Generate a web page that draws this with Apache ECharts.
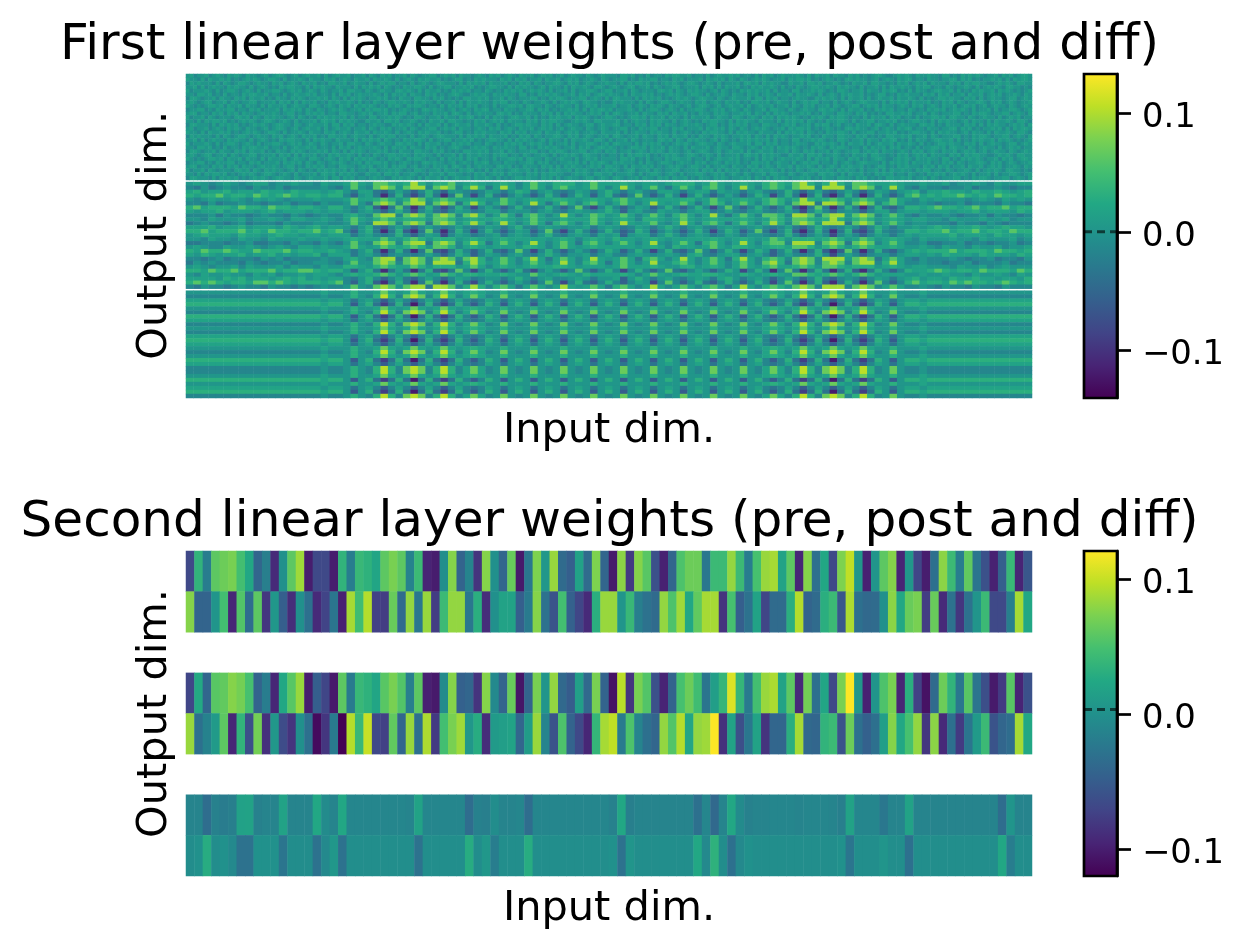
<!DOCTYPE html>
<html>
<head>
<meta charset="utf-8">
<style>html,body{margin:0;padding:0;background:#fff}#chart{width:1244px;height:949px}</style>
<script src="https://cdn.jsdelivr.net/npm/echarts@6/dist/echarts.min.js"></script>
</head>
<body>
<div id="chart"></div>
<script>
const titleFirst = 'First linear layer weights (pre, post and diff)';
const titleSecond = 'Second linear layer weights (pre, post and diff)';
const inputLabel = 'Input dim.';
const outputLabel = 'Output dim.';

const viridis = ['#440154','#482475','#414487','#355f8d','#2a788e','#21918c','#22a884','#44bf70','#7ad151','#bddf26','#fde725'];

const firstRange = [-0.14, 0.133];
const secondRange = [-0.12, 0.1213];
const firstMark = 0;
const secondMark = 0.0036;
const colorbarTicks = [-0.1, 0, 0.1];

/* Estimated weight level for each digit in the first-layer tables */
const preLevels = [-0.05, -0.04, -0.03, -0.02, -0.012, 0.002, 0.014, 0.024, 0.035, 0.045];
const postLevels = [-0.105, -0.08, -0.055, -0.03, -0.013, 0.003, 0.016, 0.03, 0.06, 0.095];
const diffLevels = [-0.12, -0.09, -0.06, -0.035, -0.015, 0.003, 0.018, 0.032, 0.07, 0.105];

/* First layer, pre-training: fine noise around zero */
const firstPreStrips = [
'5645564565 4656546554 5645665456 4565564645 6556455646 5465645564 6545566456 5646554565 4656456546 5564565645 6456554654 565',
'6554646556 5645456565 4566546455 6546554656 4565465564 6556546456 5465655645 4566454656 5554656465 6455646556 4565645565 465',
'4656555464 6545665456 5546564565 4655645466 5564565546 4565664554 6456545665 5546465656 4655564546 5646545566 5465645654 556',
'5564645655 4656554645 6545465665 5464656554 6555464656 5646545465 5665464556 6455656454 5665546465 6554564655 4646556546 654',
'6455565464 5665456546 4556654565 6456546545 5646655465 4565546656 5464655645 4656564554 6545465656 4565654645 5646455665 456',
'5546656454 6455465665 5645546456 5565645546 4656456555 6546465564 6554656454 5665445656 5465565546 6454656565 4556465645 665',
'4665455646 5546564655 6454655465 6545565646 5464656545 5656454655 4665546564 5454665565 6455646545 5566454656 6545566456 546',
'5654566455 6465455664 5556465646 4655645465 6556546454 6545665565 4656554645 5646465565 5465664554 6545565464 5656546655 454',
'6545456656 4655646554 6465556456 5546654565 4656465656 5454656546 5665455464 6556465645 5464556656 4665546545 6554645656 455',
'4556645465 5664554656 4555646565 6465465456 5654556465 6656454565 4546656554 5645654656 6455465545 5664656454 5565646465 665',
'5664554656 4656465545 6556545664 5465656455 4665545656 4556465664 5645546556 4665464565 5546656454 6555465646 4656554565 646',
'6455646545 5546656465 4656554564 6545465656 5564645546 6455656545 4665455646 5546566454 6465545665 5646454656 5564656545 456',
'5546465665 6454565654 5665456546 4555646656 4656554465 5646656455 6545465564 6655454656 4565646555 4656465665 5445656546 655',
'4665554646 5656454565 6545665546 5456555646 6465645545 6554465656 5464655646 4565564655 6546454566 5655465646 4565545664 565'
];
const firstPrePairs = [[0,5],[1,9],[2,12],[3,7],[4,11],[5,1],[6,13],[7,2],[8,0],[9,4],[10,6],[11,8],[12,3],[13,10],[0,9],[1,3],[2,6],[3,11],[4,13],[5,8],[6,0],[7,12],[8,5],[9,2],[10,1],[11,7],[12,4],[13,6]];
const firstPre = firstPrePairs.map(p => firstPreStrips[p[0]] + firstPreStrips[p[1]]);

/* First layer, difference: bands shared by many rows (left, faint stripe, 19 stripes, faint stripe, right) */
const bandStrongUp = '4444444444444444 4454 4575 4797 4898 4797 4686 4585 4585 4585 4585 4585 4585 4585 4585 4585 4686 4797 4898 4797 4585 4454 4444444444444';
const bandUp       = '5555555555555555 5565 5575 5686 5686 5686 5676 5575 5575 5575 5575 5575 5575 5575 5575 5575 5676 5686 5686 5686 5575 5565 5555555555555';
const bandDown     = '6666666666666666 6656 6535 6424 6424 6424 6434 6535 6535 6535 6535 6535 6535 6535 6535 6535 6434 6424 6424 6424 6535 6656 6666666666666';
const bandStrongDown = '7777777777777777 7767 7525 7313 7303 7313 7424 7525 7525 7525 7525 7525 7525 7525 7525 7525 7424 7313 7303 7313 7525 7767 7777777777777';
const firstDiff = [
  bandUp, bandStrongUp, bandDown, bandStrongDown, bandUp, bandStrongUp, bandStrongDown, bandDown, bandStrongUp,
  bandUp, bandStrongUp, bandDown, bandStrongDown, bandDown, bandUp, bandStrongUp, bandUp, bandStrongDown,
  bandDown, bandStrongUp, bandStrongUp, bandUp, bandStrongDown, bandUp, bandDown, bandStrongDown, bandStrongUp
];

/* First layer, post-training: the same bands with visible noise */
const firstPost = [
'5654565456645565 5465 5686 5887 6797 5778 5676 5676 4686 5777 5686 6676 5665 6777 5686 5676 5787 6897 5797 5887 6676 5565 5645565465566',
'4353454435445344 4454 3585 4898 5899 4898 4797 3696 4686 4786 5686 4696 4685 3686 4786 4696 4787 5899 4999 4898 4696 4354 4344534454344',
'6756675665766576 6656 7536 6324 6424 7425 5434 6535 7635 6434 6535 7535 6436 6535 6636 5535 6434 7424 6324 6424 6535 6746 6766576676567',
'7677867768767876 7767 7425 6303 7313 7303 8414 7324 6424 7424 7525 7324 8424 7414 7424 6424 7514 7303 7203 7303 7424 7867 6778767687767',
'5456556546565455 5655 5686 6787 5798 5787 6676 5586 5676 6776 5676 5786 5676 6677 5686 5676 5787 5797 6787 5787 5586 5465 6555456546565',
'4435344544344534 4354 4585 3898 4899 4898 3797 4686 4696 3686 4786 4686 4696 5686 3687 4686 4787 4899 3998 4898 4786 4454 3445344435443',
'7867776877687767 7657 7535 7203 8303 7313 7414 6424 7434 7424 8314 7424 6524 7424 7414 8424 7424 7203 8303 7303 7324 7767 8776786778677',
'6566756665675666 5656 6535 6424 7414 6324 6534 6635 5535 6435 6545 7525 6436 5535 6634 6435 6434 6414 7424 5424 6635 6656 6656675666576',
'4445354434544354 3454 4675 4899 4898 5898 4897 4686 3786 4696 4687 5686 4686 4786 4695 3686 4887 4998 4899 5898 4686 4354 4543445354434',
'5546555645565466 5565 4686 5787 6777 5887 5676 6776 5686 5576 6686 5676 4776 5686 5676 6676 5687 5887 6797 5787 5676 5665 5465556556455',
'3454434534443544 4554 4585 4998 4898 3898 5797 4696 4686 3786 4686 4696 5685 4696 4786 3686 4797 4898 5999 3898 4686 4554 4435443543444',
'6667566756665765 6756 6535 7324 6424 6434 6434 6535 7435 6545 5635 6534 6535 7535 6435 6545 6434 6324 7434 6424 7535 5656 7656676567665',
'7786777867687767 7867 8425 7303 7203 8303 7414 7424 6524 8314 7424 7423 7524 6424 7414 7524 8314 7203 7303 7213 7434 7767 7867786776877',
'5676665766567665 6656 6635 6434 7424 6514 6534 5635 6535 7435 6536 5625 6635 7535 6534 6535 5434 7424 6414 6424 6535 6566 6675666576656',
'5546554655465556 5565 5676 6686 5787 5777 5676 5676 6666 5676 4676 5766 5676 5666 6676 5676 5687 5777 6787 5687 5676 5465 5565546555645',
'3344434453344354 4354 3585 4898 4899 3898 4797 3686 4696 4686 3786 4686 4695 4686 3786 4696 4788 4999 4898 3898 4686 4453 3445344344534',
'5654465565456546 6565 5686 5687 6787 5887 4676 5666 5776 4686 5676 6666 5676 4766 5686 5776 5677 6887 5787 5787 6676 5565 4655465564556',
'7687787668777867 7667 6535 7303 7303 8213 7424 7324 8414 7424 6424 7524 7414 7324 8424 7414 7524 7303 7202 8303 7324 6767 7786777687767',
'6576566756675656 6746 6635 6424 5434 6424 7524 6535 6435 7535 5635 6435 6545 6536 7435 6635 6424 6434 7414 6424 5535 6656 5766657666576',
'4434534443545344 4454 4675 4899 3898 4898 4897 4686 4796 3686 4696 5686 3786 4696 4686 3796 4787 4898 4999 5898 3686 4354 4454344534435',
'3545444354344534 4554 3585 5898 4898 4999 3797 5686 4686 4696 4786 3686 4695 5786 4686 4686 4897 3898 4898 4899 4796 4454 4344534445344',
'5654556465556465 5465 5776 5787 6687 5777 5686 4676 5676 6776 5666 5686 6676 5577 5676 4686 5786 6787 5887 6777 5676 5665 5546556456555',
'7768778677786778 8767 7525 7303 6303 7213 8414 7424 7314 6424 8424 7414 7424 8324 6424 7514 7404 8303 7303 7203 7424 7667 8767768777687',
'5465565546564556 5665 4676 6787 5787 5687 5776 6676 5586 5676 5766 6676 4686 5676 6776 5576 5676 5887 6787 5787 5666 5565 5655465565465',
'6666576756656767 5656 6435 7424 6324 6424 6534 5535 7535 6445 6535 5625 7535 6435 6536 7535 6424 6424 7324 5424 6535 6756 6576676656657',
'7878767768878767 7767 8425 7203 7303 8303 7314 7424 6424 8414 7324 7424 6514 8424 7324 7424 7414 8303 7203 7303 8424 7867 7687877678767',
'4354434544354434 3454 4585 4898 5899 3998 4797 4786 3686 4696 5686 3786 4696 4686 4786 3696 4787 5898 4999 4898 4686 4454 3544354435444'
];

/* Second layer: 100 input dims, two output dims, in thousandths */
const secondPre0 = [-67,36,-19,60,67,72,48,24,-41,-17,-91,0,60,86,-101,-67,-67,-101,36,-19,41,34,22,60,72,60,-14,43,-96,-101,-2,77,-43,-12,-84,77,0,-41,65,-103,-24,74,7,84,-36,-48,17,-36,74,-41,-103,79,-79,77,58,-60,-98,-41,53,67,67,-24,43,43,82,43,-19,50,84,89,19,60,-94,77,-31,24,-67,74,98,7,-98,5,60,77,-96,7,-70,-101,-31,79,43,-19,62,-26,-60,-98,-48,41,-96,-55];
const secondPre1 = [77,-43,-43,5,48,-94,55,-34,60,-82,7,-48,-89,0,-31,-91,-72,-26,-98,89,46,94,-74,-77,65,-36,82,-24,84,-77,43,82,82,-24,31,-89,0,19,19,-48,-22,77,-29,-58,48,-46,-70,-91,31,84,84,5,41,-17,-29,-36,82,53,86,24,62,89,89,-84,50,-48,-29,19,-70,-36,-36,31,94,-43,-36,31,43,-55,91,-31,-38,-36,0,79,24,65,72,-77,65,-91,-29,-82,-29,5,43,-67,-67,-17,89,24];
const secondPost0 = [-70,26,-41,58,62,77,70,50,-43,-19,-94,24,58,84,-101,-48,-70,-103,60,-22,41,34,22,58,72,55,-17,60,-98,-103,-5,77,-46,-41,-84,77,-7,-43,65,-106,-43,72,5,82,-38,-50,14,-38,72,-43,-108,96,-84,72,55,-60,-96,-43,50,67,46,-26,14,38,108,38,-22,48,84,91,19,60,-91,70,-31,22,-67,72,121,7,-98,5,53,72,-96,31,-74,-108,-36,67,36,-24,58,-26,-62,-103,-79,58,-96,-60];
const secondPost1 = [84,-31,-14,10,60,-94,36,-62,70,-86,7,-65,-84,0,-31,-113,-82,-22,-120,94,41,101,-67,-74,62,-41,84,-31,91,-79,48,72,86,7,29,-89,10,14,19,-41,12,84,-12,-58,53,-43,-67,-94,38,89,98,-22,53,-12,-31,-41,82,55,94,22,82,86,121,-86,19,-62,-24,19,-84,-41,-41,31,89,-38,-41,36,43,-58,67,-31,-46,-31,14,77,24,50,82,-82,79,-91,-31,-79,-26,10,43,-58,-41,-34,89,24];
const secondDiff0 = [-12,-12,-34,-15,-20,-17,17,19,-15,-12,-12,19,-12,-12,-12,24,-5,-12,24,-10,-10,-10,-10,-10,-10,-10,-12,19,-10,-10,-10,-10,-10,-34,-15,-17,-3,-12,-12,-10,-34,-10,-10,-10,-10,-10,-10,-10,-10,-10,-15,24,-17,-12,-12,-12,-12,-12,-12,-12,-31,-10,-38,-12,24,-5,-15,-12,-12,-10,-10,-10,-12,-10,-10,-10,-12,-17,19,-10,-10,-10,-24,-12,-12,19,-12,-12,-12,-12,-12,-12,-12,-12,-12,-12,-34,5,-12,-12];
const secondDiff1 = [-3,1,29,-3,1,-7,-29,-29,1,1,1,-26,-3,-3,-3,-29,-7,7,-29,-2,-2,-2,-2,-2,-2,-2,-2,-29,-2,-2,-2,-2,-2,29,-3,7,-19,-2,-2,-2,29,-2,-2,-2,-2,-2,-2,-2,-2,-2,1,-29,5,-2,-2,-2,-2,-2,-2,-2,24,-7,34,-3,-31,-7,1,-2,-2,-2,-2,-2,-2,-2,-2,-2,-2,1,-26,-2,-2,-2,5,-2,-2,-31,-2,-2,-2,-2,-2,-2,-2,-2,-2,-2,24,-19,-2,-3];
const secondRows = [secondPre0, secondPre1, null, secondPost0, secondPost1, null, secondDiff0, secondDiff1];

const preColumnCount = 226;
const firstColumnCount = 113;
const secondColumnCount = 100;
const cellsFromDigits = (rows, levels, columns) => {
  const out = [];
  rows.forEach((row, y) => {
    row.replace(/ /g, '').padEnd(columns, '5').slice(0, columns).split('').forEach((d, x) => {
      out.push([x, y, levels[+d]]);
    });
  });
  return out;
};
const cellsFromMilli = rows => {
  const out = [];
  rows.forEach((row, y) => { if (row) row.forEach((v, x) => out.push([x, y, v / 1000])); });
  return out;
};
const indexLabels = n => Array.from({length: n}, (_, i) => String(i));

const hiddenCat = (n, extra) => Object.assign({
  type: 'category', data: indexLabels(n), splitArea: {show: false}, splitLine: {show: false},
  axisLine: {show: false}, axisTick: {show: false}, axisLabel: {show: false}, silent: true
}, extra);

const font = 'DejaVu Sans';
const labelStyle = {fontFamily: font, fontSize: 41.5, color: '#000'};
const xName = {name: inputLabel, nameLocation: 'middle', nameGap: 12, nameTextStyle: labelStyle};
const yName = {name: outputLabel, nameLocation: 'middle', nameGap: 10, nameRotate: 90, nameTextStyle: labelStyle};

const colorbarSeries = (gridIdx, range, mark) => ({
  type: 'custom', xAxisIndex: gridIdx, yAxisIndex: gridIdx, clip: false, silent: true, z: 5,
  data: [[0, range[0], range[1], mark]],
  encode: {x: 0, y: [1, 2]},
  renderItem: (params, api) => {
    const a = api.coord([0, api.value(1)]);
    const b = api.coord([1, api.value(2)]);
    const m0 = api.coord([0, api.value(3)]);
    const m1 = api.coord([1, api.value(3)]);
    return {type: 'group', children: [
      {type: 'rect', shape: {x: a[0], y: b[1], width: b[0] - a[0], height: a[1] - b[1]},
       style: {fill: new echarts.graphic.LinearGradient(0, 1, 0, 0, viridis.map((c, i) => ({offset: i / (viridis.length - 1), color: c}))), stroke: null}},
      {type: 'line', shape: {x1: m0[0], y1: m0[1], x2: m1[0], y2: m1[1]},
       style: {stroke: '#000', lineWidth: 3, opacity: 0.6, lineDash: [8, 5]}},
      {type: 'rect', shape: {x: a[0], y: b[1], width: b[0] - a[0], height: a[1] - b[1]},
       style: {fill: null, stroke: '#000', lineWidth: 2.7}}
    ]};
  }
});

const colorbarX = gridIdx => ({type: 'value', gridIndex: gridIdx, min: 0, max: 1, show: false});
const colorbarY = (gridIdx, range) => ({
  type: 'value', gridIndex: gridIdx, min: range[0], max: range[1], position: 'right',
  splitLine: {show: false},
  axisLine: {show: true, onZero: false, lineStyle: {color: '#000', width: 2.7}},
  axisTick: {show: true, length: 14, inside: false, customValues: colorbarTicks, lineStyle: {color: '#000', width: 2.7}},
  axisLabel: {show: true, margin: 25, customValues: colorbarTicks, fontFamily: font, fontSize: 33.8, color: '#000', verticalAlign: 'top', lineHeight: 10,
    formatter: v => (v < 0 ? '\u2212' : '') + Math.abs(v).toFixed(1)}
});

const heat = (gridIdx, data) => ({
  type: 'heatmap', xAxisIndex: gridIdx, yAxisIndex: gridIdx, data, progressive: 0, silent: true,
  emphasis: {disabled: true}, itemStyle: {borderWidth: 0}
});

const option = {
  animation: false,
  backgroundColor: '#fff',
  title: [
    {text: titleFirst, left: 604.5, top: 16, textAlign: 'center', textStyle: {fontFamily: font, fontSize: 50.1, fontWeight: 'normal', color: '#000'}},
    {text: titleSecond, left: 604.5, top: 493, textAlign: 'center', textStyle: {fontFamily: font, fontSize: 50.1, fontWeight: 'normal', color: '#000'}}
  ],
  grid: [
    {left: 186, top: 74, width: 846, height: 106},
    {left: 186, top: 182, width: 846, height: 106.7},
    {left: 186, top: 290.7, width: 846, height: 107.3},
    {left: 186, top: 551, width: 846, height: 325},
    {left: 1084, top: 74, width: 33, height: 324},
    {left: 1084, top: 551, width: 33, height: 325}
  ],
  xAxis: [
    hiddenCat(preColumnCount, {gridIndex: 0}),
    hiddenCat(firstColumnCount, {gridIndex: 1}),
    hiddenCat(firstColumnCount, Object.assign({gridIndex: 2}, xName)),
    hiddenCat(secondColumnCount, Object.assign({gridIndex: 3}, xName)),
    colorbarX(4),
    colorbarX(5)
  ],
  yAxis: [
    hiddenCat(firstPre.length, {gridIndex: 0, inverse: true}),
    hiddenCat(firstPost.length, Object.assign({gridIndex: 1, inverse: true}, yName)),
    hiddenCat(firstDiff.length, {gridIndex: 2, inverse: true}),
    hiddenCat(secondRows.length, Object.assign({gridIndex: 3, inverse: true}, yName)),
    colorbarY(4, firstRange),
    colorbarY(5, secondRange)
  ],
  visualMap: [
    {show: false, type: 'continuous', seriesIndex: [0, 1, 2], min: firstRange[0], max: firstRange[1], dimension: 2, inRange: {color: viridis}},
    {show: false, type: 'continuous', seriesIndex: [3], min: secondRange[0], max: secondRange[1], dimension: 2, inRange: {color: viridis}}
  ],
  series: [
    heat(0, cellsFromDigits(firstPre, preLevels, preColumnCount)),
    heat(1, cellsFromDigits(firstPost, postLevels, firstColumnCount)),
    heat(2, cellsFromDigits(firstDiff, diffLevels, firstColumnCount)),
    heat(3, cellsFromMilli(secondRows)),
    colorbarSeries(4, firstRange, firstMark),
    colorbarSeries(5, secondRange, secondMark)
  ]
};
echarts.init(document.getElementById('chart'), null, {renderer: 'canvas'}).setOption(option);
</script>
</body>
</html>
